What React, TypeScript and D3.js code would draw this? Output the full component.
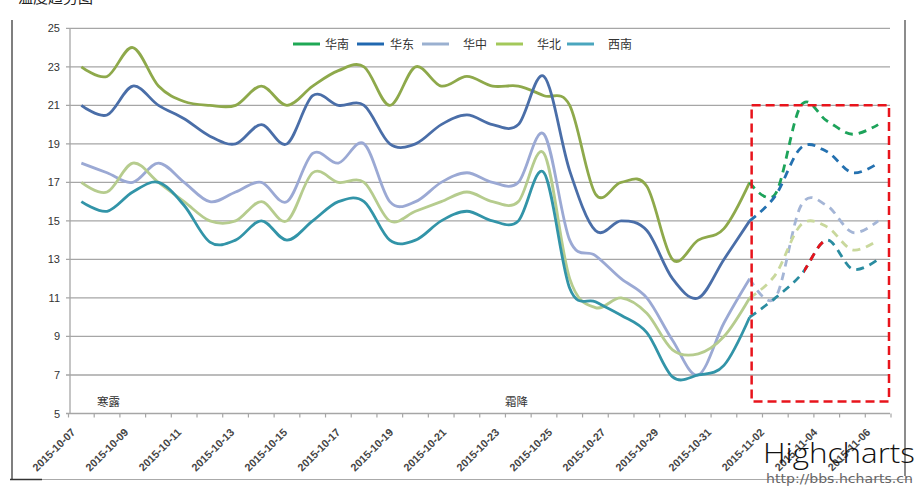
import React from "react";
import * as d3 from "d3";

// categories (one per day)
const categories = [
  "2015-10-07", "2015-10-08", "2015-10-09", "2015-10-10", "2015-10-11", "2015-10-12",
  "2015-10-13", "2015-10-14", "2015-10-15", "2015-10-16", "2015-10-17", "2015-10-18",
  "2015-10-19", "2015-10-20", "2015-10-21", "2015-10-22", "2015-10-23", "2015-10-24",
  "2015-10-25", "2015-10-26", "2015-10-27", "2015-10-28", "2015-10-29", "2015-10-30",
  "2015-10-31", "2015-11-01", "2015-11-02", "2015-11-03", "2015-11-04", "2015-11-05",
  "2015-11-06", "2015-11-07",
];
const tickLabels = [
  "2015-10-07", "2015-10-09", "2015-10-11", "2015-10-13", "2015-10-15", "2015-10-17",
  "2015-10-19", "2015-10-21", "2015-10-23", "2015-10-25", "2015-10-27", "2015-10-29",
  "2015-10-31", "2015-11-02", "2015-11-04", "2015-11-06",
];
const yTicks = [5, 7, 9, 11, 13, 15, 17, 19, 21, 23, 25];

// observed: 10-07 .. 11-02
const huanan = [23, 22.5, 24, 22, 21.2, 21, 21, 22, 21, 22, 22.8, 23, 21, 23, 22, 22.5, 22, 22, 21.5, 21, 16.4, 17, 16.8, 13, 14, 14.6, 17];
const huadong = [21, 20.5, 22, 21, 20.3, 19.4, 19, 20, 19, 21.5, 21, 21, 19, 19, 20, 20.5, 20, 20, 22.5, 17.6, 14.5, 15, 14.5, 12, 11, 13, 15];
const huazhong = [18, 17.5, 17, 18, 17, 16, 16.5, 17, 16, 18.5, 18, 19, 16, 16, 17, 17.5, 17, 17, 19.5, 14, 13.2, 12, 11, 8.8, 7, 9.7, 12];
const huabei = [17, 16.5, 18, 17, 16, 15, 15, 16, 15, 17.5, 17, 17, 15, 15.5, 16, 16.5, 16, 16, 18.5, 12, 10.5, 11, 10.2, 8.3, 8.1, 9, 11];
const xinan = [16, 15.5, 16.5, 17, 15.8, 13.9, 14, 15, 14, 15, 16, 16, 14, 14, 15, 15.5, 15, 15, 17.5, 11.5, 10.8, 10.1, 9.2, 6.9, 7, 7.5, 10];

// forecast: 11-02 .. 11-07
const huananF = [17, 16.4, 21, 20.2, 19.5, 20];
const huadongF = [15, 16.3, 18.8, 18.6, 17.5, 18];
const huazhongF = [12, 11, 15.8, 15.8, 14.4, 15];
const huabeiF = [11, 12.2, 14.8, 14.7, 13.5, 14];
const xinanF = [10, 11, 12.2, 14, 12.5, 13];

const legendNames = ["华南", "华东", "华中", "华北", "西南"];
const legendColors = ["#1fa855", "#2068b0", "#9ab0d0", "#a3c85a", "#4aa6be"];
const lineColors = ["#8ea94b", "#4a6ea8", "#9ba9d4", "#b6cc8e", "#3294a8"];
const dashColors = ["#1da35a", "#2471b0", "#a4b5d6", "#c9d89c", "#2a8ca0"];

const W = 923;
const H = 494;

export default function App() {
  const x = d3.scaleBand().domain(categories).range([68.5, 891]);
  const cx = (d: string) => (x(d) as number) + x.bandwidth() / 2;
  const y = d3.scaleLinear().domain([5, 25]).range([413.5, 28.3]);
  const labelX = d3.scalePoint().domain(categories).range([76, 76 + 31 * 26.5]);

  const obsDates = categories.slice(0, 27);
  const fcDates = categories.slice(26);
  const observed = [huanan, huadong, huazhong, huabei, xinan];
  const forecast = [huananF, huadongF, huazhongF, huabeiF, xinanF];

  const lineFor = (dates: string[]) =>
    d3
      .line<number>()
      .x((_, i) => cx(dates[i]))
      .y((v) => y(v))
      .curve(d3.curveCardinal.tension(0));

  const obsLine = lineFor(obsDates);
  const fcLine = lineFor(fcDates);

  const plotL = 70;
  const plotR = 890;
  const boxL = cx("2015-11-02") + 2;
  const boxT = y(21);
  const boxB = y(5) - 12;
  const redL = cx("2015-11-04") + 3;
  const redR = cx("2015-11-05") - 2;

  const bounds = [...categories.map((d) => x(d) as number), x.range()[1]];

  return (
    <svg
      width={W}
      height={H}
      style={{ position: "absolute", left: 0, top: 0, background: "#fff" }}
      fontFamily="'Liberation Sans', Arial, sans-serif"
    >
      <defs>
        <clipPath id="redSeg">
          <rect x={redL} y={0} width={redR - redL} height={H} />
        </clipPath>
      </defs>

      {/* outer frame */}
      <line x1={12} x2={12} y1={20} y2={479} stroke="#555" strokeWidth={1.5} />
      <line x1={10} x2={912} y1={479.5} y2={479.5} stroke="#aaa" strokeWidth={1.2} />
      <line x1={10} x2={42} y1={479.5} y2={479.5} stroke="#333" strokeWidth={1.5} />
      <line x1={905} x2={905} y1={20} y2={476} stroke="#666" strokeWidth={1.5} />

      <text x={18} y={3} fontSize={15} fill="#222" fontFamily="'Noto Sans CJK SC', sans-serif">温度趋势图</text>

      {/* grid */}
      {yTicks.map((t) => (
        <g key={t}>
          <line x1={66} x2={plotR} y1={y(t)} y2={y(t)} stroke="#a6a6a6" strokeWidth={1.3} />
          <text x={60} y={y(t) + 4} textAnchor="end" fontSize={11} fill="#333">
            {t}
          </text>
        </g>
      ))}
      <line x1={plotL} x2={plotL} y1={y(25)} y2={y(5)} stroke="#a6a6a6" strokeWidth={1.3} />
      {bounds.map((b, i) => (
        <line key={i} x1={b} x2={b} y1={y(5)} y2={y(5) + 4} stroke="#a6a6a6" strokeWidth={1.2} />
      ))}

      {/* x labels */}
      {tickLabels.map((d) => (
        <text
          key={d}
          transform={`translate(${labelX(d)},${433}) rotate(-45)`}
          textAnchor="end"
          fontSize={10.8}
          fontWeight="bold"
          fill="#444"
        >
          {d}
        </text>
      ))}

      {/* observed lines */}
      {observed.map((s, i) => (
        <path
          key={i}
          d={obsLine(s) || ""}
          fill="none"
          stroke={lineColors[i]}
          strokeWidth={2.8}
          strokeLinejoin="round"
        />
      ))}

      {/* forecast dashed lines */}
      {forecast.map((s, i) => (
        <path
          key={i}
          d={fcLine(s) || ""}
          fill="none"
          stroke={dashColors[i]}
          strokeWidth={2.8}
          strokeDasharray="8 6"
        />
      ))}
      <path
        d={fcLine(xinanF) || ""}
        fill="none"
        stroke="#e8131b"
        strokeWidth={2.8}
        strokeDasharray="8 6"
        clipPath="url(#redSeg)"
      />

      {/* highlight box */}
      <rect
        x={boxL}
        y={boxT}
        width={plotR - 1 - boxL}
        height={boxB - boxT}
        fill="none"
        stroke="#e8141c"
        strokeWidth={2.5}
        strokeDasharray="9 5"
      />

      {/* legend */}
      {legendNames.map((n, i) => {
        const lx = [293, 357, 422, 496, 567][i];
        const tx = [325, 390, 463, 537, 608][i];
        return (
          <g key={n}>
            <line x1={lx} x2={lx + 27} y1={44} y2={44} stroke={legendColors[i]} strokeWidth={3} />
            <text x={tx} y={48.5} fontSize={12} fill="#333" fontFamily="'Noto Sans CJK SC', sans-serif">
              {n}
            </text>
          </g>
        );
      })}

      {/* annotations */}
      <text x={97} y={406} fontSize={11.5} fill="#333" fontFamily="'Noto Sans CJK SC', sans-serif">寒露</text>
      <text x={505} y={406} fontSize={11.5} fill="#333" fontFamily="'Noto Sans CJK SC', sans-serif">霜降</text>

      {/* watermark */}
      <text
        x={763}
        y={463}
        fontSize={28}
        fontWeight={300}
        fill="#111"
        textLength={152}
        lengthAdjust="spacingAndGlyphs"
        fontFamily="'Open Sans', 'Noto Sans', sans-serif"
      >
        Highcharts
      </text>
      <text
        x={766}
        y={483}
        fontSize={13}
        fill="#666"
        textLength={147}
        lengthAdjust="spacingAndGlyphs"
        fontFamily="'DejaVu Sans', sans-serif"
      >
        http://bbs.hcharts.cn
      </text>
    </svg>
  );
}
